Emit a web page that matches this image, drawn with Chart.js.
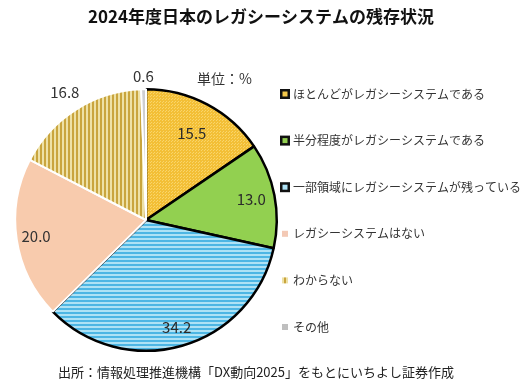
<!DOCTYPE html>
<html lang="ja">
  <head>
    <meta charset="UTF-8" />
    <title>2024年度日本のレガシーシステムの残存状況</title>
    <script src="https://cdn.jsdelivr.net/npm/chart.js"></script>
    <style>
      html, body { margin: 0; padding: 0; background: #fff; }
      #wrap { position: relative; width: 524px; height: 386px; }
    </style>
  </head>
  <body>
    <div id="wrap"><canvas id="myChart" width="524" height="386"></canvas></div>
    <script>
      var titulo = "2024年度日本のレガシーシステムの残存状況";
      var fonte = "出所：情報処理推進機構「DX動向2025」をもとにいちよし証券作成";
      var unidade = "単位：%";
      var categorias = [
        "ほとんどがレガシーシステムである",
        "半分程度がレガシーシステムである",
        "一部領域にレガシーシステムが残っている",
        "レガシーシステムはない",
        "わからない",
        "その他",
      ];
      var valores = [15.5, 13.0, 34.2, 20.0, 16.8, 0.6];

      var JP = '"Noto Sans CJK JP", "Noto Sans", sans-serif';

      function padrao(w, h, fundo, desenha) {
        var c = document.createElement("canvas");
        c.width = w;
        c.height = h;
        var g = c.getContext("2d");
        g.fillStyle = fundo;
        g.fillRect(0, 0, w, h);
        desenha(g);
        return document.createElement("canvas").getContext("2d").createPattern(c, "repeat");
      }

      // yellow stipple
      var pAmarelo = padrao(3, 3, "#F3BF36", function (g) {
        g.fillStyle = "#F9D56A";
        g.fillRect(0, 0, 1, 1);
        g.fillRect(1, 2, 1, 1);
      });
      // blue horizontal stripes
      var pAzul = padrao(4, 4, "#AEE2F5", function (g) {
        g.fillStyle = "#4DB6E4";
        g.fillRect(0, 0, 4, 2);
      });
      // gold vertical stripes
      var pOuro = padrao(4, 4, "#EEE1A6", function (g) {
        g.fillStyle = "#C9A53E";
        g.fillRect(0, 0, 2, 4);
      });

      var cores = [pAmarelo, "#92D050", pAzul, "#F8CBAD", pOuro, "#CFCFD2"];
      var bordas = ["#000", "#000", "#000", "#fff", "#fff", "#fff"];
      var larguras = [2.5, 2.5, 2.5, 2, 2, 2];
      var legMarca = ["#F4C84A", "#92D050", "#AEE2F5", "#F3C9B5", pOuro, "#BFBFBF"];
      var raioRotulo = [0.75, 0.82, 0.85, 0.85, 1.16, 1.1];

      var textos = {
        id: "textos",
        afterDraw: function (chart) {
          var ctx = chart.ctx;
          ctx.save();
          ctx.textBaseline = "middle";

          ctx.fillStyle = "#111";
          ctx.textAlign = "center";
          ctx.font = "bold 17px " + JP;
          ctx.fillText(titulo, 261, 17);

          ctx.font = "13px " + JP;
          ctx.fillStyle = "#222";
          ctx.fillText(fonte, 256, 372);

          ctx.font = "14px " + JP;
          ctx.textAlign = "left";
          ctx.fillStyle = "#333";
          ctx.fillText(unidade, 197, 79);

          // value labels
          var meta = chart.getDatasetMeta(0);
          ctx.textAlign = "center";
          ctx.font = "15px " + JP;
          meta.data.forEach(function (arc, i) {
            var p = arc.getProps(["x", "y", "startAngle", "endAngle", "outerRadius"], true);
            var a = (p.startAngle + p.endAngle) / 2;
            var r = p.outerRadius * raioRotulo[i];
            ctx.fillStyle = i < 3 ? "#2b2b2b" : "#333";
            ctx.fillText(valores[i].toFixed(1), p.x + Math.cos(a) * r, p.y + Math.sin(a) * r);
          });

          // legend
          ctx.textAlign = "left";
          ctx.font = "12px " + JP;
          categorias.forEach(function (nome, i) {
            var y = 94 + i * 46.6;
            if (i < 3) {
              ctx.fillStyle = "#111";
              ctx.fillRect(280, y - 5, 10, 10);
              ctx.fillStyle = legMarca[i];
              ctx.fillRect(282.5, y - 2.5, 5, 5);
            } else {
              ctx.fillStyle = legMarca[i];
              ctx.fillRect(282, y - 3, 6, 6);
            }
            ctx.fillStyle = "#333";
            ctx.fillText(nome, 293, y);
          });
          ctx.restore();
        },
      };

      new Chart(document.getElementById("myChart"), {
        type: "pie",
        data: {
          labels: categorias,
          datasets: [
            {
              data: valores,
              backgroundColor: cores,
              borderColor: bordas,
              borderWidth: larguras,
            },
          ],
        },
        options: {
          responsive: false,
          animation: false,
          layout: { padding: { left: 14, right: 246, top: 88, bottom: 34 } },
          plugins: {
            legend: { display: false },
            tooltip: { enabled: false },
          },
        },
        plugins: [textos],
      });
    </script>
  </body>
</html>
